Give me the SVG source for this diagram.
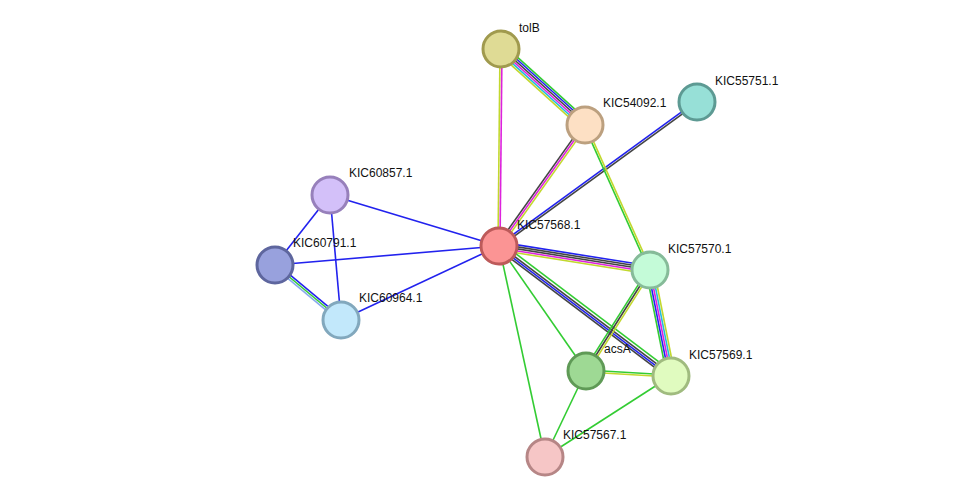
<svg xmlns="http://www.w3.org/2000/svg" width="976" height="502" viewBox="0 0 976 502">
<style>
line{stroke-width:1.6;fill:none}
.g{stroke:#33cc33}.b{stroke:#2222ee}.k{stroke:#444}.m{stroke:#dd22dd}.c{stroke:#22bbdd}.y{stroke:#c2d82e}.lb{stroke:#88aaee}
.n{stroke-width:3}
text{font-family:"Liberation Sans",Arial,sans-serif;font-size:12px;fill:#111}
</style>
<rect width="976" height="502" fill="#fff"/>
<g id="edges">
<!-- tolB-54092 perp step (-1.34,1.48) -->
<line class="g" x1="501" y1="49" x2="585" y2="125" transform="translate(3.35,-3.7)"/>
<line class="b" x1="501" y1="49" x2="585" y2="125" transform="translate(2.01,-2.22)"/>
<line class="k" x1="501" y1="49" x2="585" y2="125" transform="translate(0.67,-0.74)"/>
<line class="m" x1="501" y1="49" x2="585" y2="125" transform="translate(-0.67,0.74)"/>
<line class="c" x1="501" y1="49" x2="585" y2="125" transform="translate(-2.01,2.22)"/>
<line class="y" x1="501" y1="49" x2="585" y2="125" transform="translate(-3.35,3.7)"/>
<!-- tolB-57568 -->
<line class="y" x1="501" y1="49" x2="499" y2="246" transform="translate(-1,0)"/>
<line class="m" x1="501" y1="49" x2="499" y2="246" transform="translate(1,0)"/>
<!-- 54092-57568 -->
<line class="k" x1="585" y1="125" x2="499" y2="246" transform="translate(-1.64,-1.16)"/>
<line class="m" x1="585" y1="125" x2="499" y2="246"/>
<line class="y" x1="585" y1="125" x2="499" y2="246" transform="translate(1.64,1.16)"/>
<!-- 55751-57568 -->
<line class="b" x1="697" y1="102" x2="499" y2="246" transform="translate(-0.6,-0.8)"/>
<line class="k" x1="697" y1="102" x2="499" y2="246" transform="translate(0.6,0.8)"/>
<!-- 54092-57570 -->
<line class="g" x1="585" y1="125" x2="650" y2="270" transform="translate(-0.9,0.4)"/>
<line class="y" x1="585" y1="125" x2="650" y2="270" transform="translate(0.9,-0.4)"/>
<!-- 57568-57570 -->
<line class="b" x1="499" y1="246" x2="650" y2="270" transform="translate(0.64,-3.96)"/>
<line class="k" x1="499" y1="246" x2="650" y2="270" transform="translate(0.32,-1.98)"/>
<line class="k" x1="499" y1="246" x2="650" y2="270"/>
<line class="m" x1="499" y1="246" x2="650" y2="270" transform="translate(-0.32,1.98)"/>
<line class="y" x1="499" y1="246" x2="650" y2="270" transform="translate(-0.64,3.96)"/>
<!-- 57568-57569 -->
<line class="k" x1="499" y1="246" x2="671" y2="376" transform="translate(-1.8,2.4)"/>
<line class="b" x1="499" y1="246" x2="671" y2="376" transform="translate(-0.6,0.8)"/>
<line class="k" x1="499" y1="246" x2="671" y2="376" transform="translate(0.6,-0.8)"/>
<line class="g" x1="499" y1="246" x2="671" y2="376" transform="translate(2.4,-3.2)"/>
<line class="g" x1="499" y1="246" x2="586" y2="371"/>
<line class="g" x1="499" y1="246" x2="545" y2="457"/>
<!-- 57570-acsA -->
<line class="g" x1="650" y1="270" x2="586" y2="371" transform="translate(-1.7,-1.06)"/>
<line class="k" x1="650" y1="270" x2="586" y2="371"/>
<line class="y" x1="650" y1="270" x2="586" y2="371" transform="translate(1.7,1.06)"/>
<!-- 57570-57569 -->
<line class="g" x1="650" y1="270" x2="671" y2="376" transform="translate(-3.92,0.76)"/>
<line class="b" x1="650" y1="270" x2="671" y2="376" transform="translate(-1.96,0.38)"/>
<line class="m" x1="650" y1="270" x2="671" y2="376"/>
<line class="c" x1="650" y1="270" x2="671" y2="376" transform="translate(1.96,-0.38)"/>
<line class="y" x1="650" y1="270" x2="671" y2="376" transform="translate(3.92,-0.76)"/>
<!-- acsA-57569 -->
<line class="g" x1="586" y1="371" x2="671" y2="376" transform="translate(0,-1)"/>
<line class="y" x1="586" y1="371" x2="671" y2="376" transform="translate(0,1)"/>
<line class="g" x1="586" y1="371" x2="545" y2="457"/>
<line class="g" x1="671" y1="376" x2="545" y2="457"/>
<!-- left cluster -->
<line class="b" x1="330" y1="195" x2="499" y2="246"/>
<line class="b" x1="275" y1="265" x2="499" y2="246"/>
<line class="b" x1="341" y1="320" x2="499" y2="246"/>
<line class="b" x1="330" y1="195" x2="275" y2="265"/>
<line class="b" x1="330" y1="195" x2="341" y2="320"/>
<line class="b" x1="275" y1="265" x2="341" y2="320" transform="translate(1.28,-1.54)"/>
<line class="g" x1="275" y1="265" x2="341" y2="320"/>
<line class="lb" x1="275" y1="265" x2="341" y2="320" transform="translate(-1.28,1.54)"/>
</g>
<g id="tolB"><circle class="n" cx="501" cy="49" r="18" fill="#dfdb95" stroke="#a09a4e"/><text x="519" y="32">tolB</text></g>
<g id="KIC54092.1"><circle class="n" cx="585" cy="125" r="18" fill="#fde0c4" stroke="#bca07f"/><text x="603" y="107">KIC54092.1</text></g>
<g id="KIC55751.1"><circle class="n" cx="697" cy="102" r="18" fill="#97e0d7" stroke="#5d9a93"/><text x="715" y="85">KIC55751.1</text></g>
<g id="KIC60857.1"><circle class="n" cx="330" cy="195" r="18" fill="#d3c0f9" stroke="#9780bb"/><text x="349" y="177">KIC60857.1</text></g>
<g id="KIC60791.1"><circle class="n" cx="275" cy="265" r="18" fill="#98a1dd" stroke="#5e669e"/><text x="293" y="247">KIC60791.1</text></g>
<g id="KIC57568.1"><circle class="n" cx="499" cy="246" r="18" fill="#fb9494" stroke="#bd5a5a"/><text x="517" y="229">KIC57568.1</text></g>
<g id="KIC57570.1"><circle class="n" cx="650" cy="270" r="18" fill="#c4fbd8" stroke="#86bb99"/><text x="668" y="253">KIC57570.1</text></g>
<g id="KIC60964.1"><circle class="n" cx="341" cy="320" r="18" fill="#c2e8fb" stroke="#82a8bd"/><text x="359" y="302">KIC60964.1</text></g>
<g id="acsA"><circle class="n" cx="586" cy="371" r="18" fill="#9ed994" stroke="#5f9a56"/><text x="604" y="353">acsA</text></g>
<g id="KIC57569.1"><circle class="n" cx="671" cy="376" r="18" fill="#e0fbbf" stroke="#a0bb7f"/><text x="689" y="359">KIC57569.1</text></g>
<g id="KIC57567.1"><circle class="n" cx="545" cy="457" r="18" fill="#f6c6c6" stroke="#b68686"/><text x="563" y="439">KIC57567.1</text></g>
</svg>
